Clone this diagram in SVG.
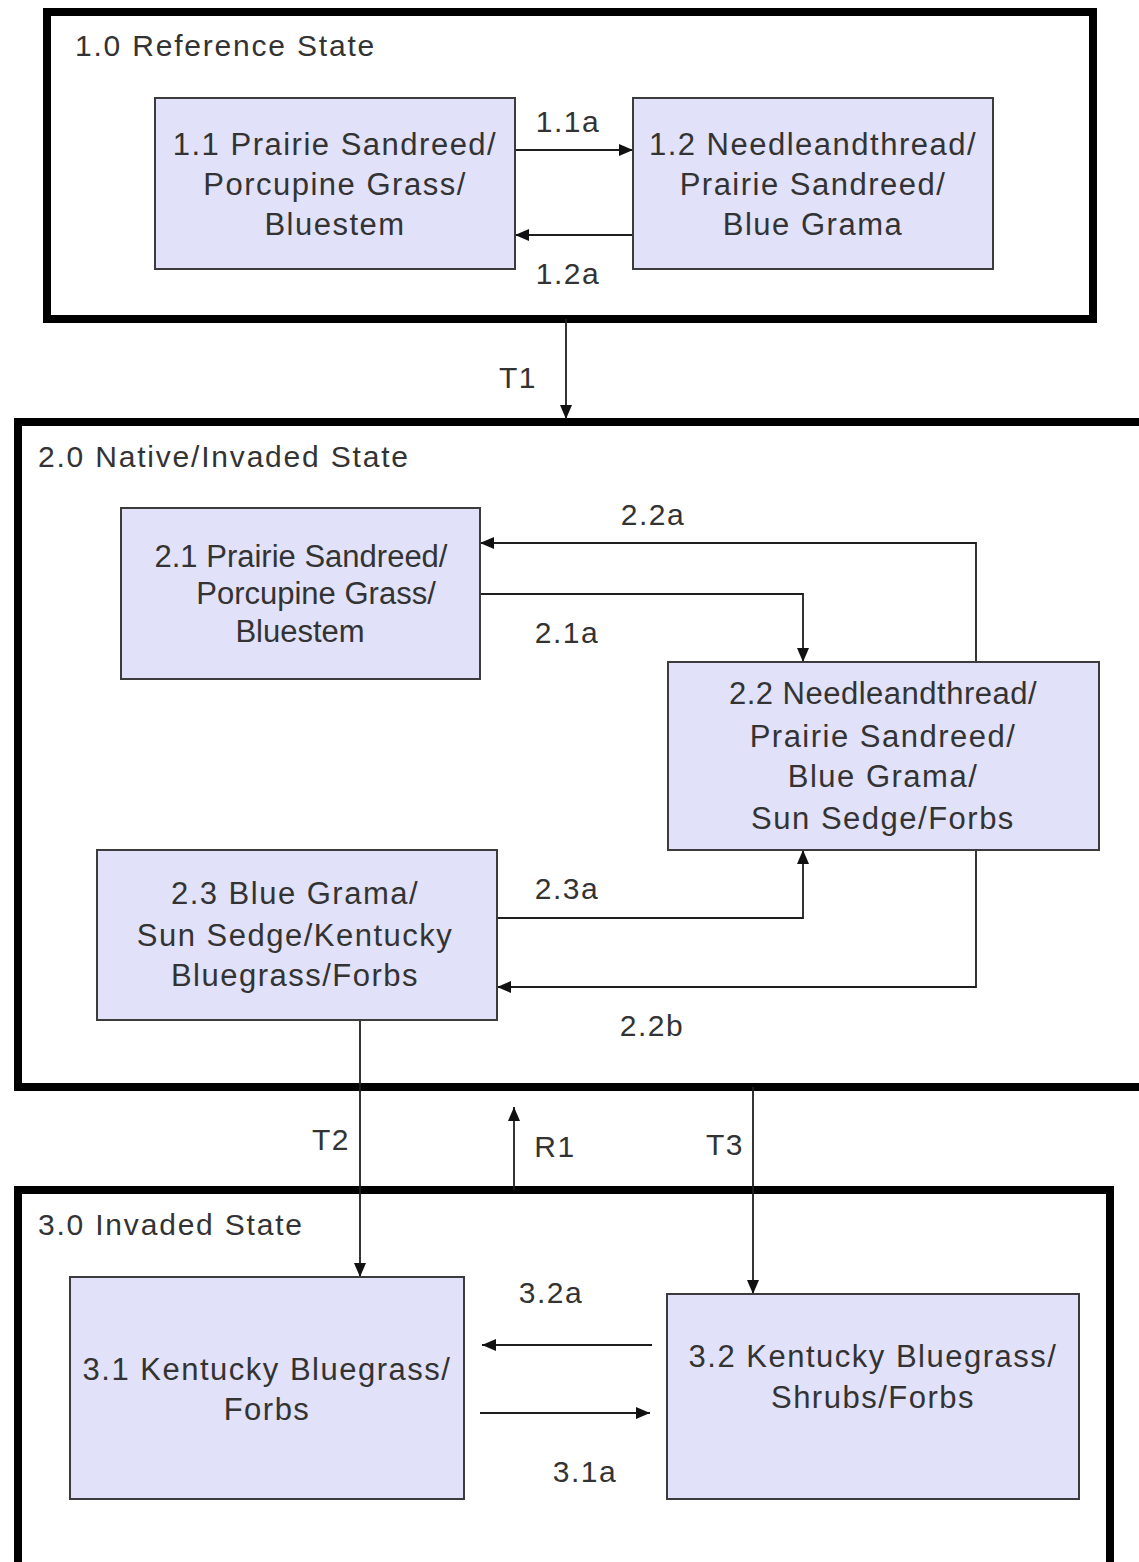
<svg xmlns="http://www.w3.org/2000/svg" width="1139" height="1562" viewBox="0 0 1139 1562">
<style>
.state{fill:none;stroke:#000;stroke-width:8}
.box{fill:#e1e1f9;stroke:#3c3c3c;stroke-width:2}
text{font-family:"Liberation Sans",Arial,sans-serif;fill:#333}
.t{font-size:31px;letter-spacing:1.5px;text-anchor:middle}
.title{font-size:30px;letter-spacing:1.8px}
.lbl{font-size:30px;letter-spacing:1.5px;text-anchor:middle}
.c{fill:none;stroke:#1e1e1e;stroke-width:1.8}
</style>
<defs>
<marker id="ah" viewBox="0 0 14 12" refX="14" refY="6" markerWidth="14" markerHeight="12" markerUnits="userSpaceOnUse" orient="auto">
<path d="M0,0 L14,6 L0,12 z" fill="#111"/>
</marker>
</defs>
<rect width="1139" height="1562" fill="#fff"/>

<g id="state1">
<rect class="state" x="47" y="12" width="1046" height="307"/>
<text class="title" x="75" y="56">1.0 Reference State</text>
</g>
<g id="state2">
<rect class="state" x="18" y="422" width="1140" height="665"/>
<text class="title" x="38" y="467">2.0 Native/Invaded State</text>
</g>
<g id="state3">
<rect class="state" x="18" y="1190" width="1092" height="390"/>
<text class="title" x="38" y="1235">3.0 Invaded State</text>
</g>

<g id="connectors">
<path class="c" d="M515,150 H633" marker-end="url(#ah)"/>
<path class="c" d="M633,235 H515" marker-end="url(#ah)"/>
<path class="c" d="M566,319 V419" marker-end="url(#ah)"/>
<path class="c" d="M976,662 V543 H480" marker-end="url(#ah)"/>
<path class="c" d="M480,594 H803 V662" marker-end="url(#ah)"/>
<path class="c" d="M497,918 H803 V850" marker-end="url(#ah)"/>
<path class="c" d="M976,850 V987 H497" marker-end="url(#ah)"/>
<path class="c" d="M360,1020 V1277" marker-end="url(#ah)"/>
<path class="c" d="M514,1190 V1107" marker-end="url(#ah)"/>
<path class="c" d="M753,1087 V1294" marker-end="url(#ah)"/>
<path class="c" d="M652,1345 H482" marker-end="url(#ah)"/>
<path class="c" d="M480,1413 H650" marker-end="url(#ah)"/>
<text class="lbl" x="568" y="132">1.1a</text>
<text class="lbl" x="568" y="284">1.2a</text>
<text class="lbl" x="518" y="388">T1</text>
<text class="lbl" x="653" y="525">2.2a</text>
<text class="lbl" x="567" y="643">2.1a</text>
<text class="lbl" x="567" y="899">2.3a</text>
<text class="lbl" x="652" y="1036">2.2b</text>
<text class="lbl" x="331" y="1150">T2</text>
<text class="lbl" x="555" y="1157">R1</text>
<text class="lbl" x="725" y="1155">T3</text>
<text class="lbl" x="551" y="1303">3.2a</text>
<text class="lbl" x="585" y="1482">3.1a</text>
</g>

<g id="n11">
<rect class="box" x="155" y="98" width="360" height="171"/>
<text class="t" x="335" y="155">1.1 Prairie Sandreed/</text>
<text class="t" x="335" y="195">Porcupine Grass/</text>
<text class="t" x="335" y="235">Bluestem</text>
</g>
<g id="n12">
<rect class="box" x="633" y="98" width="360" height="171"/>
<text class="t" x="813" y="155">1.2 Needleandthread/</text>
<text class="t" x="813" y="195">Prairie Sandreed/</text>
<text class="t" x="813" y="235">Blue Grama</text>
</g>
<g id="n21">
<rect class="box" x="121" y="508" width="359" height="171"/>
<text class="t" x="301" y="567" style="letter-spacing:0">2.1  Prairie Sandreed/</text>
<text class="t" x="316" y="604" style="letter-spacing:0">Porcupine Grass/</text>
<text class="t" x="300" y="642" style="letter-spacing:0">Bluestem</text>
</g>
<g id="n22">
<rect class="box" x="668" y="662" width="431" height="188"/>
<text class="t" x="883" y="704" style="letter-spacing:0.5px">2.2  Needleandthread/</text>
<text class="t" x="883" y="747">Prairie Sandreed/</text>
<text class="t" x="883" y="787">Blue Grama/</text>
<text class="t" x="883" y="829">Sun Sedge/Forbs</text>
</g>
<g id="n23">
<rect class="box" x="97" y="850" width="400" height="170"/>
<text class="t" x="295" y="904">2.3 Blue Grama/</text>
<text class="t" x="295" y="946">Sun Sedge/Kentucky</text>
<text class="t" x="295" y="986">Bluegrass/Forbs</text>
</g>
<g id="n31">
<rect class="box" x="70" y="1277" width="394" height="222"/>
<text class="t" x="267" y="1380">3.1 Kentucky Bluegrass/</text>
<text class="t" x="267" y="1420">Forbs</text>
</g>
<g id="n32">
<rect class="box" x="667" y="1294" width="412" height="205"/>
<text class="t" x="873" y="1367">3.2 Kentucky Bluegrass/</text>
<text class="t" x="873" y="1408">Shrubs/Forbs</text>
</g>
</svg>
